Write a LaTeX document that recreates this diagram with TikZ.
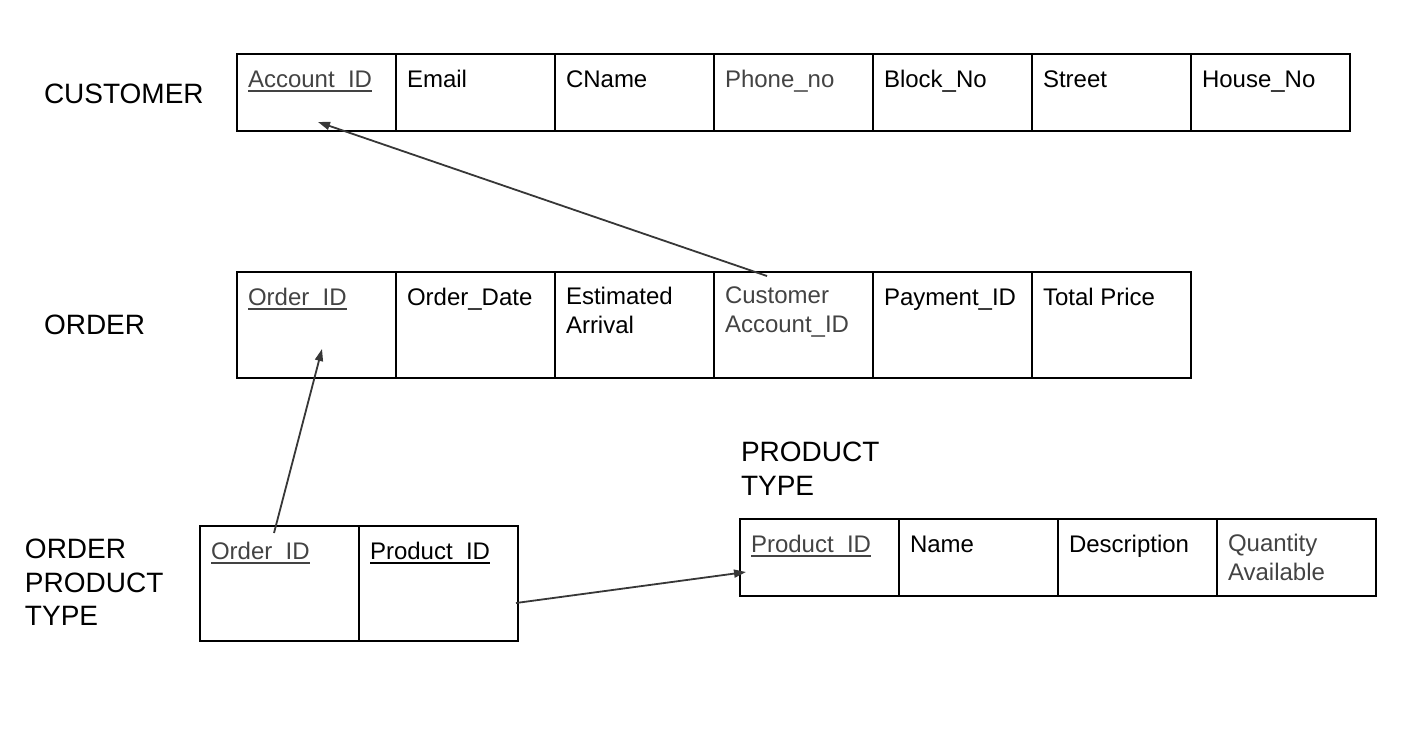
\documentclass[tikz,border=0pt]{standalone}
\usepackage{fontspec}
\setmainfont{Liberation Sans}
\usepackage{tikz}
\usetikzlibrary{positioning,calc,arrows.meta}
\definecolor{keygray}{RGB}{67,67,67}
\definecolor{linegray}{RGB}{55,55,55}
\newcommand{\keyattr}[1]{\leavevmode\vtop{\hbox{#1}\kern-\prevdepth\kern1.4pt\hrule height 0.9pt}}

\begin{document}
\begin{tikzpicture}[x=0.5pt,y=-0.5pt,node distance=0cm,outer sep=0pt,inner sep=0pt]
      \tikzset{field/.style={shape=rectangle,minimum width=79.5pt,line width=1pt,draw}}
      \tikzset{smallfield/.style={field,minimum height=38.5pt}}
      \tikzset{fieldtext/.style={anchor=north west,align=left,xshift=5.5pt,yshift=-7.5pt,font=\fontsize{12}{14.4}\selectfont,
          execute at begin node={\rule{0pt}{9pt}}}}
      \tikzset{tablename/.style={anchor=north west,align=left,font=\fontsize{14}{16.8}\selectfont,
          execute at begin node={\rule{0pt}{10pt}}}}
      \tikzset{ref/.style={draw=linegray,line width=0.9pt,-{Triangle[length=6pt,width=4pt]}}}

      \useasboundingbox (0,0) rectangle (1403,740);

      % CUSTOMER
      \node [tablename] (customer) at (44,83) {CUSTOMER};
      \node [smallfield, label={[fieldtext,text=keygray]north west:\keyattr{Account\_ID}}] (accountid) at (316.5,92.5) {};
      \node [smallfield, right=of accountid, label={[fieldtext]north west:Email}] (email) {};
      \node [smallfield, right=of email, label={[fieldtext]north west:CName}] (cname) {};
      \node [smallfield, right=of cname, label={[fieldtext,text=keygray]north west:Phone\_no}] (phoneno) {};
      \node [smallfield, right=of phoneno, label={[fieldtext]north west:Block\_No}] (blockno) {};
      \node [smallfield, right=of blockno, label={[fieldtext]north west:Street}] (street) {};
      \node [smallfield, right=of street, label={[fieldtext]north west:House\_No}] (houseno) {};

      % ORDER
      \node [tablename] (order) at (44,314) {ORDER};
      \node [field, minimum height=53pt, label={[fieldtext,text=keygray]north west:\keyattr{Order\_ID}}] (orderid) at (316.5,325) {};
      \node [field, minimum height=53pt, right=of orderid, label={[fieldtext]north west:Order\_Date}] (orderdate) {};
      \node [field, minimum height=53pt, right=of orderdate, label={[fieldtext]north west:{Estimated\\Arrival}}] (arrival) {};
      \node [field, minimum height=53pt, right=of arrival, label={[fieldtext,text=keygray]north west:{Customer\\Account\_ID}}] (ordercustomer) {};
      \node [field, minimum height=53pt, right=of ordercustomer, label={[fieldtext]north west:Payment\_ID}] (paymentid) {};
      \node [field, minimum height=53pt, right=of paymentid, label={[fieldtext]north west:Total Price}] (totalprice) {};

      % ORDER PRODUCT TYPE
      \node [tablename] (orderproducttype) at (25,539) {ORDER\\PRODUCT\\TYPE};
      \node [field, minimum height=57.5pt, label={[fieldtext,text=keygray]north west:\keyattr{Order\_ID}}] (optorderid) at (279.5,583.5) {};
      \node [field, minimum height=57.5pt, right=of optorderid, label={[fieldtext]north west:\keyattr{Product\_ID}}] (optproductid) {};

      % PRODUCT TYPE
      \node [tablename] (producttype) at (741,442) {PRODUCT\\TYPE};
      \node [smallfield, label={[fieldtext,text=keygray]north west:\keyattr{Product\_ID}}] (productid) at (819.5,557.5) {};
      \node [smallfield, right=of productid, label={[fieldtext]north west:Name}] (ptname) {};
      \node [smallfield, right=of ptname, label={[fieldtext]north west:Description}] (description) {};
      \node [smallfield, right=of description, label={[fieldtext,text=keygray]north west:{Quantity\\Available}}] (quantity) {};

      % references
      \draw [ref] ($(ordercustomer.north)+(-26.5,4)$) -- ($(accountid.south)+(1.5,-9)$);
      \draw [ref] ($(optorderid.north)+(-5.5,7)$) -- ($(orderid.center)+(5.5,24)$);
      \draw [ref] ($(optproductid.east)+(-2,19.5)$) -- ($(productid.west)+(6,14.5)$);
\end{tikzpicture}
\end{document}
